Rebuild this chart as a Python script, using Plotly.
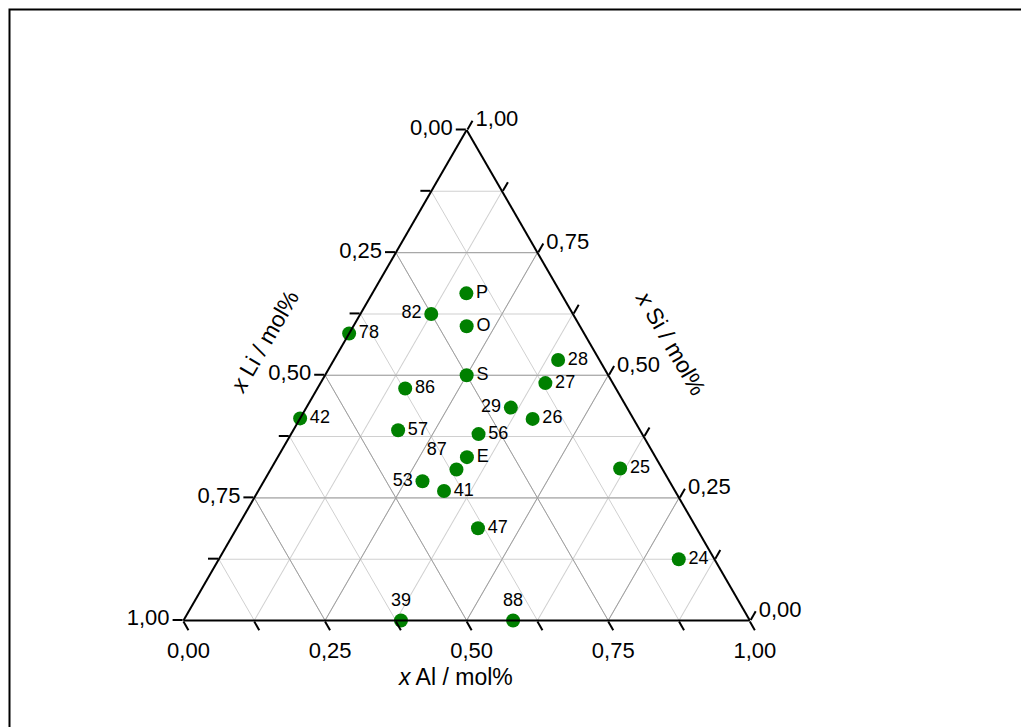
import plotly.graph_objects as go

# ---- data (mole fractions) ----
labels = ["P", "O", "82", "78", "28", "S", "27", "86", "29", "26", "42",
          "57", "56", "E", "87", "25", "53", "41", "47", "24", "39", "88"]
x_si = [0.667, 0.600, 0.625, 0.585, 0.531, 0.500, 0.484, 0.473, 0.434, 0.411, 0.412,
        0.388, 0.380, 0.333, 0.308, 0.310, 0.284, 0.264, 0.188, 0.125, 0.000, 0.000]
x_li = [0.167, 0.200, 0.250, 0.415, 0.073, 0.250, 0.119, 0.372, 0.205, 0.178, 0.588,
        0.427, 0.289, 0.333, 0.364, 0.074, 0.436, 0.408, 0.386, 0.063, 0.616, 0.418]
x_al = [0.166, 0.200, 0.125, 0.000, 0.396, 0.250, 0.397, 0.155, 0.361, 0.411, 0.000,
        0.185, 0.331, 0.334, 0.328, 0.616, 0.280, 0.328, 0.426, 0.812, 0.384, 0.582]

tick_vals = [0, 0.125, 0.25, 0.375, 0.5, 0.625, 0.75, 0.875, 1.0]
major_vals = [0.25, 0.5, 0.75]

# ---- style ----
label_pos = {"82": "middle left", "29": "middle left", "53": "middle left",
             "87": "top left", "39": "top center", "88": "top center"}
FONT = "Arial, Liberation Sans, sans-serif"


def fmt(v):
    return f"{v:.2f}".replace(".", ",")


def rev_text(vals):
    # axes in the reference run the other way round the triangle
    return [fmt(1 - v) if abs((v * 4) - round(v * 4)) < 1e-9 else "" for v in vals]


fig = go.Figure()

# darker major grid lines
for v in major_vals:
    fig.add_trace(go.Scatterternary(a=[v, v], b=[1 - v, 0], c=[0, 1 - v], mode="lines",
                                    line=dict(color="#a0a0a0", width=1), hoverinfo="skip",
                                    showlegend=False))
    fig.add_trace(go.Scatterternary(a=[1 - v, 0], b=[v, v], c=[0, 1 - v], mode="lines",
                                    line=dict(color="#a0a0a0", width=1), hoverinfo="skip",
                                    showlegend=False))
    fig.add_trace(go.Scatterternary(a=[1 - v, 0], b=[0, 1 - v], c=[v, v], mode="lines",
                                    line=dict(color="#a0a0a0", width=1), hoverinfo="skip",
                                    showlegend=False))

fig.add_trace(go.Scatterternary(
    a=x_si, b=x_li, c=x_al, text=labels,
    mode="markers+text",
    textposition=[label_pos.get(l, "middle right") for l in labels],
    textfont=dict(family=FONT, size=18, color="black"),
    marker=dict(size=14, color="#008000"),
    cliponaxis=False, showlegend=False))

axis_common = dict(
    tickmode="array", tickvals=tick_vals,
    tickfont=dict(family=FONT, size=22, color="black"),
    ticks="outside", ticklen=10, tickwidth=1.5, tickcolor="black",
    linecolor="black", linewidth=2, showline=True,
    gridcolor="#d0d0d0", gridwidth=1, title=dict(text=""),
)

W, H = 1021, 727
fig.update_layout(
    width=W, height=H,
    margin=dict(l=0, r=0, t=0, b=0),
    paper_bgcolor="white",
    font=dict(family=FONT, color="black"),
    ternary=dict(
        domain=dict(x=[183.3 / W, 750 / W], y=[(H - 620.5) / H, (H - 130) / H]),
        bgcolor="white", sum=1,
        aaxis=dict(axis_common, ticktext=rev_text(tick_vals)),
        baxis=dict(axis_common, ticktext=rev_text(tick_vals)),
        caxis=dict(axis_common, ticktext=rev_text(tick_vals)),
    ),
    annotations=[
        dict(text="<i>x</i> Li / mol%", x=264 / W, y=(H - 342) / H, xref="paper", yref="paper",
             xanchor="center", yanchor="middle",
             showarrow=False, textangle=-60, font=dict(size=23, family=FONT)),
        dict(text="<i>x</i> Si / mol%", x=671 / W, y=(H - 343) / H, xref="paper", yref="paper",
             xanchor="center", yanchor="middle",
             showarrow=False, textangle=60, font=dict(size=23, family=FONT)),
        dict(text="<i>x</i> Al / mol%", x=455 / W, y=(H - 677) / H, xref="paper", yref="paper",
             xanchor="center", yanchor="middle",
             showarrow=False, font=dict(size=23, family=FONT)),
    ],
    shapes=[dict(type="rect", xref="paper", yref="paper", x0=9.5 / W, x1=1.05,
                 y0=-0.05, y1=1 - 9.5 / H, line=dict(color="black", width=2))],
)

fig.write_html("out.html")
